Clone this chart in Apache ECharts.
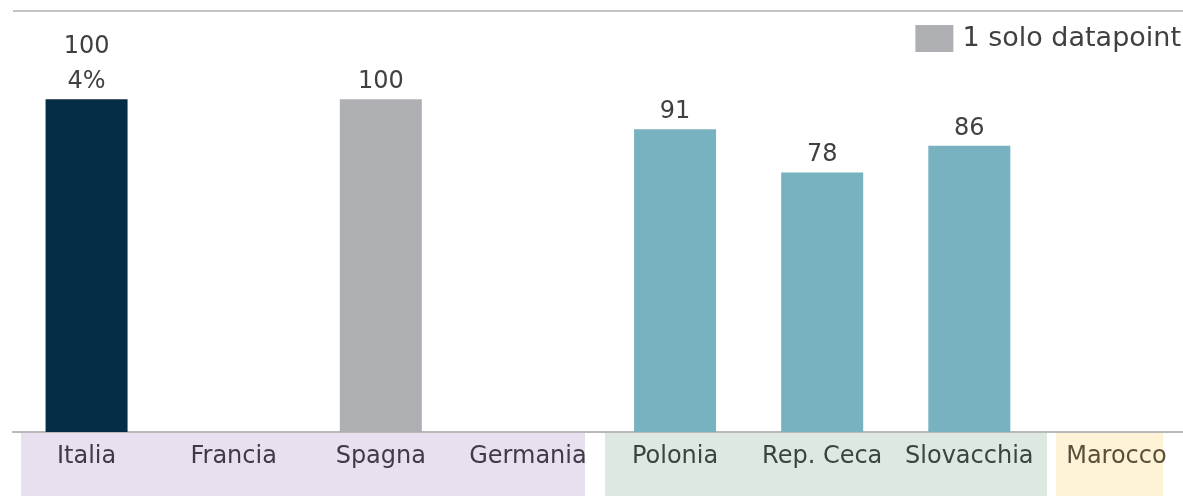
<!DOCTYPE html>
<html><head><meta charset="utf-8">
<script src="https://cdn.jsdelivr.net/npm/echarts@6/dist/echarts.min.js"></script>
<style>html,body{margin:0;padding:0;background:#fff;overflow:hidden;width:1183px;height:496px}#c{width:1191px;height:496px}</style>
</head><body><div id="c"></div>
<script>
const categories = ['Italia','Francia','Spagna','Germania','Polonia','Rep. Ceca','Slovacchia','Marocco'];
const values = [100, null, 100, null, 91, 78, 86, null];
const extraLabel = ['4%', '', '', '', '', '', '', ''];
const barColors = ['#062d46', null, '#adafb2', null, '#78b1bf', '#78b1bf', '#78b1bf', null];
const labelColors = ['#3f3a45','#3f3a45','#3f3a45','#3f3a45','#3a4540','#3a4540','#3a4540','#5a503c'];
const legendName = '1 solo datapoint';

const FONT = '"DejaVu Sans", Verdana, sans-serif';
const chart = echarts.init(document.getElementById('c'), null, {renderer:'canvas'});
chart.setOption({
  animation:false,
  textStyle:{fontFamily:FONT},
  grid:{left:13, top:16, width:1177, height:416, containLabel:false},
  legend:{right:5, top:20, itemWidth:38, itemHeight:27, itemGap:10,
    textStyle:{fontSize:27, color:'#404040', fontFamily:FONT, padding:[0,0,0,4]},
    data:[{name:legendName, icon:'rect'}]},
  graphic:[
    {type:'rect', z:-10, shape:{x:21,y:432,width:564,height:64}, style:{fill:'#e8e0ef'}},
    {type:'rect', z:-10, shape:{x:605,y:432,width:442,height:64}, style:{fill:'#dce8e0'}},
    {type:'rect', z:-10, shape:{x:1056,y:432,width:107,height:64}, style:{fill:'#fef3d6'}},
    {type:'line', z:10, shape:{x1:13,y1:11,x2:1191,y2:11}, style:{stroke:'#c4c4c8', lineWidth:2}}
  ],
  xAxis:{type:'category', data:categories,
    axisLine:{show:true, lineStyle:{color:'#b8b8b8', width:2}},
    axisTick:{show:false},
    axisLabel:{interval:0, margin:13, fontSize:24, fontFamily:FONT,
      color:(v,i)=>labelColors[i]}},
  yAxis:{type:'value', min:0, max:125, show:false, splitLine:{show:false}},
  series:[
    {type:'bar', barWidth:82,
     data:values.map((v,i)=>v==null?'-':{value:v, itemStyle:{color:barColors[i]}}),
     label:{show:true, position:'top', distance:0, fontSize:24, color:'#404040', fontFamily:FONT,
       lineHeight:35,
       formatter:p=>extraLabel[p.dataIndex]? p.value+'\n'+extraLabel[p.dataIndex] : String(p.value)}},
    {type:'scatter', name:legendName, data:[], itemStyle:{color:'#adafb2', opacity:1}}
  ]
});
</script></body></html>
